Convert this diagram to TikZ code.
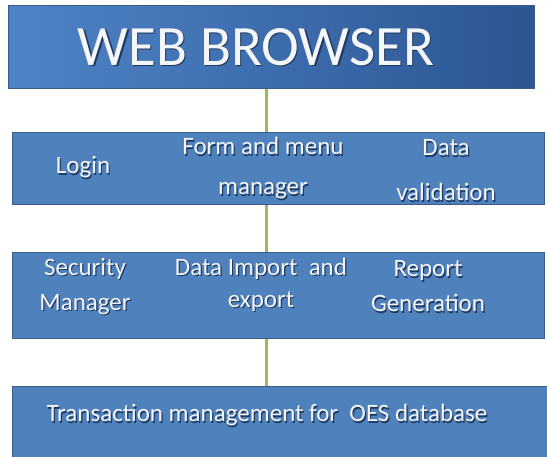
\documentclass[tikz,border=0pt]{standalone}
\usepackage{fontspec}
\setmainfont{Carlito}
\usetikzlibrary{positioning}
\definecolor{BoxBlue}{HTML}{4F81BD}
\definecolor{BoxEdge}{HTML}{385D8A}
\definecolor{TopLight}{HTML}{4F84C8}
\definecolor{TopDark}{HTML}{2C5592}
\definecolor{LinkGreen}{HTML}{9BBB59}
\definecolor{TextWhite}{HTML}{F4F6F9}
\definecolor{TextShade}{HTML}{1E3A60}
\newcommand{\shtext}[1]{\rlap{\kern1.2pt\raisebox{-1.2pt}{\textcolor{TextShade}{#1}}}#1}
\tikzset{
  tierbox/.style={draw=BoxEdge, line width=1pt, fill=BoxBlue, anchor=north west, inner sep=0pt},
  tiertext/.style={text=TextWhite, font=\fontsize{25}{39}\selectfont, align=center},
  link/.style={draw=LinkGreen, line width=3pt}
}

\begin{document}
\begin{tikzpicture}[x=1pt, y=-1pt]
          \clip (0,0) rectangle (547,456);
          \fill[white] (0,0) rectangle (547,456);

          \node[tierbox, left color=TopLight, right color=TopDark, minimum width=526pt, minimum height=83pt] (Browser) at (8,5) {};
          \node[tierbox, minimum width=532pt, minimum height=72pt] (Front) at (12,132) {};
          \node[tierbox, minimum width=532pt, minimum height=86pt] (Middle) at (12,252) {};
          \node[tierbox, minimum width=560pt, minimum height=90pt] (Database) at (12,386) {};

          \node[text=TextWhite, font=\fontsize{57}{62}\selectfont] (Title) at (256,48) {\shtext{WEB BROWSER}};

          \node[tiertext] (Login) at (83,168) {\shtext{Login}};
          \node[tiertext] (FormMenu) at (263,169) {\shtext{Form and menu}\\[1pt]\shtext{manager}};
          \node[tiertext] (Validation) at (446,171) {\shtext{Data}\\[6pt]\shtext{validation}};

          \node[tiertext] (Security) at (85,287) {\shtext{Security}\\[-4pt]\shtext{Manager}};
          \node[tiertext] (ImportExport) at (261,285) {\shtext{Data Import\ \ and}\\[-7pt]\shtext{export}};
          \node[tiertext] (Report) at (428,287) {\shtext{Report}\\[-4pt]\shtext{Generation}};

          \node[tiertext] (Transaction) at (267,416) {\shtext{Transaction management for\ \ OES database}};

          \draw[link] (Browser.south -| 266,0) to (Front.north -| 266,0);
          \draw[link] (Front.south -| 266,0) to (Middle.north -| 266,0);
          \draw[link] (Middle.south -| 266,0) to (Database.north -| 266,0);
        \end{tikzpicture}
\end{document}
